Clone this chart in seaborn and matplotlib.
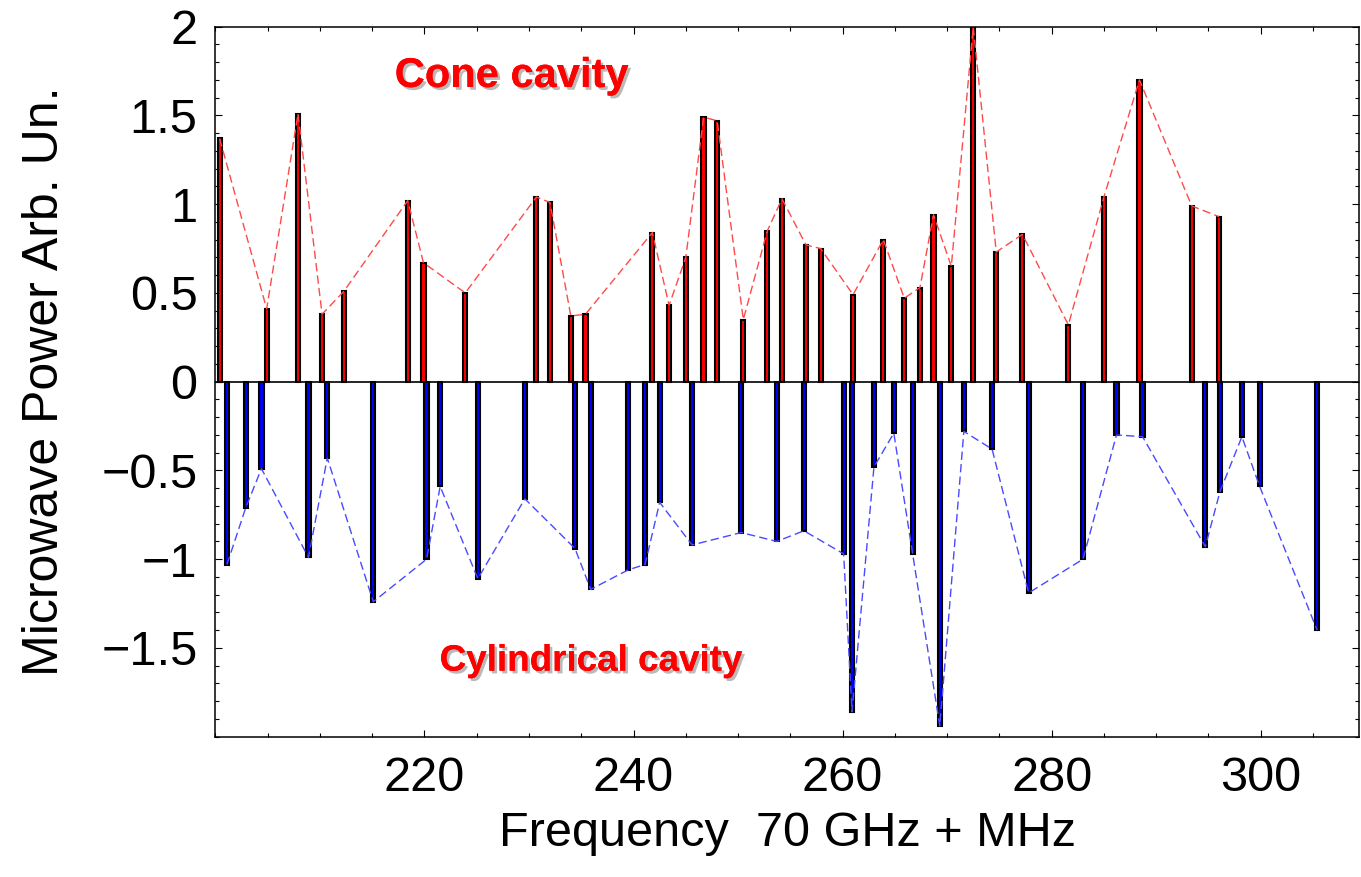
import numpy as np
import matplotlib
matplotlib.use('Agg')
import matplotlib.pyplot as plt
import matplotlib.patheffects as pe
from matplotlib.ticker import MultipleLocator
import seaborn as sns

# Cone cavity lines (positive bars), frequency offset in MHz above 70 GHz
cone_freq = [200.4, 204.9, 207.9, 210.2, 212.3, 218.4, 219.9, 223.9, 230.7, 232.0, 234.0, 235.4,
             241.8, 243.4, 245.0, 246.7, 248.0, 250.5, 252.8, 254.2, 256.5, 257.9, 261.0, 263.9,
             265.9, 267.4, 268.7, 270.4, 272.5, 274.7, 277.2, 281.6, 285.0, 288.4, 293.4, 296.0]
cone_power = [1.37, 0.41, 1.51, 0.38, 0.51, 1.02, 0.67, 0.50, 1.04, 1.01, 0.37, 0.38,
              0.84, 0.43, 0.70, 1.49, 1.47, 0.35, 0.85, 1.03, 0.77, 0.75, 0.49, 0.80,
              0.47, 0.53, 0.94, 0.65, 2.00, 0.73, 0.83, 0.32, 1.04, 1.70, 0.99, 0.93]

# Cylindrical cavity lines (drawn downwards)
cyl_freq = [201.1, 202.9, 204.4, 208.9, 210.7, 215.1, 220.2, 221.5, 225.1, 229.6, 234.4, 235.9,
            239.5, 241.1, 242.5, 245.6, 250.3, 253.7, 256.3, 260.1, 260.9, 263.0, 264.9, 266.7,
            269.3, 271.6, 274.3, 277.8, 283.0, 286.2, 288.7, 294.7, 296.1, 298.2, 299.9, 305.4]
cyl_power = [-1.03, -0.71, -0.49, -0.99, -0.43, -1.24, -1.00, -0.59, -1.11, -0.66, -0.94, -1.17,
             -1.06, -1.03, -0.68, -0.92, -0.85, -0.90, -0.84, -0.97, -1.86, -0.48, -0.29, -0.97,
             -1.94, -0.28, -0.38, -1.19, -1.00, -0.30, -0.31, -0.93, -0.62, -0.31, -0.59, -1.40]

x_ticks = [220, 240, 260, 280, 300]
y_ticks = [-1.5, -1, -0.5, 0, 0.5, 1, 1.5, 2]
y_ticklabels = ['\u22121.5', '\u22121', '\u22120.5', '0', '0.5', '1', '1.5', '2']

sns.set_style('ticks')
plt.rcParams['font.family'] = ['Liberation Sans', 'DejaVu Sans']
plt.rcParams.update({'text.color': 'black', 'axes.labelcolor': 'black',
                     'xtick.color': 'black', 'ytick.color': 'black'})

fig = plt.figure(figsize=(13.61, 8.77), dpi=100)
ax = fig.add_axes([0.1583, 0.1600, 0.8402, 0.8096])

bar_w = 0.40  # MHz


def rel_width(freq):
    # seaborn's native_scale width is relative to the smallest gap between x values
    return bar_w / np.diff(np.unique(freq)).min()


sns.barplot(x=cone_freq, y=cone_power, native_scale=True, orient='x',
            width=rel_width(cone_freq), color='#ff0000', saturation=1,
            edgecolor='black', linewidth=1.5, errorbar=None, ax=ax)
sns.barplot(x=cyl_freq, y=cyl_power, native_scale=True, orient='x',
            width=rel_width(cyl_freq), color='#0000ff', saturation=1,
            edgecolor='black', linewidth=1.5, errorbar=None, ax=ax)

sns.lineplot(x=cone_freq, y=cone_power, color='#ff4a4a', lw=1.0,
             linestyle=(0, (6, 3)), ax=ax)
sns.lineplot(x=cyl_freq, y=cyl_power, color='#4a4aff', lw=1.0,
             linestyle=(0, (6, 3)), ax=ax)

ax.axhline(0, color='black', lw=1.2, zorder=3)

ax.set_xlim(200, 309.4)
ax.set_ylim(-2, 2)
ax.set_xticks(x_ticks)
ax.set_xticklabels([str(t) for t in x_ticks])
ax.set_yticks(y_ticks)
ax.set_yticklabels(y_ticklabels)
ax.xaxis.set_minor_locator(MultipleLocator(5))
ax.yaxis.set_minor_locator(MultipleLocator(0.1))
ax.tick_params(which='both', direction='in', top=True, right=True, width=0.8, color='black')
ax.tick_params(which='major', length=5, labelsize=35)
ax.tick_params(which='minor', length=3)
ax.tick_params(axis='x', which='major', pad=14)
ax.tick_params(axis='y', which='major', pad=13)
for s in ax.spines.values():
    s.set_linewidth(1.1)
    s.set_color('black')

ax.set_xlabel('Frequency  70 GHz + MHz', fontsize=35, labelpad=7)
ax.set_ylabel('Microwave Power Arb. Un.', fontsize=36, labelpad=24)

shadow = [pe.withSimplePatchShadow(offset=(2, -2), shadow_rgbFace='0.55', alpha=0.6), pe.Normal()]
ax.text(217.15, 1.66, 'Cone cavity', color='#ff0000', fontsize=30, fontweight='bold',
        ha='left', va='baseline', path_effects=shadow)
ax.text(221.45, -1.628, 'Cylindrical cavity', color='#ff0000', fontsize=26.5, fontweight='bold',
        ha='left', va='baseline', path_effects=shadow)

fig.savefig('out.png', dpi=100)
